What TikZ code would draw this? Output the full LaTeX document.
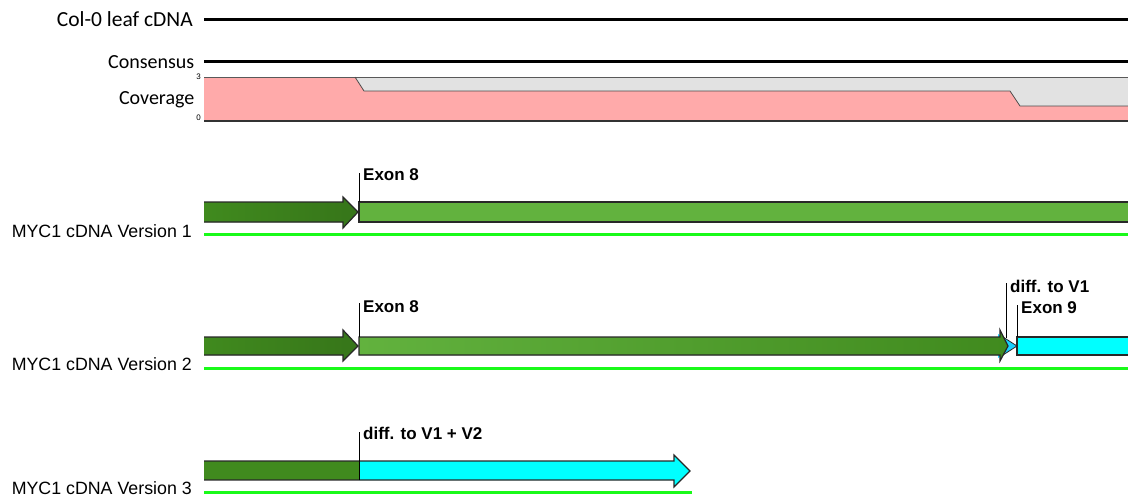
\documentclass[tikz,border=0pt]{standalone}
\usepackage{fontspec}
\setmainfont{Liberation Sans}
\newfontfamily\carl{Carlito}
\definecolor{dgreen}{RGB}{64,138,30}
\definecolor{lgreen}{RGB}{98,178,62}
\definecolor{bgreen}{RGB}{25,250,25}
\definecolor{cov}{RGB}{255,170,170}
\definecolor{covgray}{RGB}{226,226,226}
\definecolor{cyanbar}{RGB}{0,255,255}
\definecolor{edge}{RGB}{40,40,40}
\begin{document}
\begin{tikzpicture}[x=1pt,y=-1pt,
  lbl/.style={font=\carl\fontsize{20}{20}\selectfont, anchor=base east, inner sep=0pt},
  vlbl/.style={font=\fontsize{17.8}{17.8}\selectfont, anchor=base east, inner sep=0pt},
  tag/.style={font=\bfseries\fontsize{17}{17}\selectfont, anchor=base west, inner sep=0pt},
  tiny/.style={font=\fontsize{8}{8}\selectfont, anchor=east, inner sep=0pt},
  track/.style={line width=3pt, black},
  gline/.style={draw=bgreen, line width=3pt},
  pin/.style={line width=0.9pt, black},
  bar/.style={draw=edge, line width=1.2pt, line join=miter}]
\useasboundingbox (0,0) rectangle (1128,498);

% top tracks
\node[lbl, font=\carl\fontsize{21.5}{21.5}\selectfont] (col) at (193,26.5) {Col-0 leaf cDNA};
\draw[track] (204,19) -- (1128,19);
\node[lbl] (cons) at (194.5,68) {Consensus};
\draw[track] (204,61) -- (1128,61);

% coverage
\node[lbl] (covl) at (194.5,104.5) {Coverage};
\node[tiny] (c3) at (201,77) {3};
\node[tiny] (c0) at (201,118) {0};
\fill[covgray] (204,77) rectangle (1128,121);
\fill[cov] (204,77) -- (355,77) -- (364,91) -- (1010,91) -- (1020,106) -- (1128,106) -- (1128,121) -- (204,121) -- cycle;
\draw[gray!70!black, line width=0.8pt] (204,77) -- (1128,77);
\draw[gray!60!black, line width=0.8pt] (355,77) -- (364,91) -- (1010,91) -- (1020,106) -- (1128,106);
\draw[black!80, line width=1.6pt] (204,121) -- (1128,121);

% Version 1
\node[vlbl] (v1) at (192,237.5) {MYC1 cDNA Version 1};
\fill[left color=dgreen, right color=dgreen!85!black] (204,202) -- (343,202) -- (343,197) -- (358,212) -- (343,228) -- (343,222) -- (204,222) -- cycle;
\draw[bar] (204,202) -- (343,202) -- (343,197) -- (358,212) -- (343,228) -- (343,222) -- (204,222);
\fill[lgreen] (359,202) rectangle (1128,222);
\draw[bar] (1128,202) -- (359,202) -- (359,222) -- (1128,222);
\coordinate (p1) at (359,173);
\coordinate (q1) at (359,202);
\draw[pin] (p1) -- (q1);
\node[tag] (e81) at (363,180) {Exon 8};
\draw[gline] (204,234.5) -- (1128,234.5);

% Version 2
\node[vlbl] (v2) at (192,370) {MYC1 cDNA Version 2};
\fill[left color=dgreen, right color=dgreen!85!black] (204,337) -- (343,337) -- (343,330) -- (358,346) -- (343,361) -- (343,355) -- (204,355) -- cycle;
\draw[bar] (204,337) -- (343,337) -- (343,330) -- (358,346) -- (343,361) -- (343,355) -- (204,355);
\fill[cyanbar!80!blue!90!white] (998,334) -- (1017,346) -- (998,358) -- cycle;
\draw[bar, line width=0.8pt] (1003,337) -- (1017,346) -- (1003,355);
\fill[left color=lgreen, right color=dgreen] (359,337) -- (1000,337) -- (1000,330) -- (1008,346) -- (1000,361) -- (1000,355) -- (359,355) -- cycle;
\draw[bar] (359,355) -- (359,337) -- (1000,337) -- (1000,330) -- (1008,346) -- (1000,361) -- (1000,355) -- cycle;
\fill[cyanbar] (1017,337) rectangle (1128,355);
\draw[bar] (1128,337) -- (1017,337) -- (1017,355) -- (1128,355);
\coordinate (p2) at (359,303);
\coordinate (q2) at (359,337);
\draw[pin] (p2) -- (q2);
\node[tag] (e82) at (363,312) {Exon 8};
\coordinate (p3) at (1006,283);
\coordinate (q3) at (1006,338);
\draw[pin] (p3) -- (q3);
\node[tag] (d1) at (1010,292) {diff. to V1};
\coordinate (p4) at (1017,305);
\coordinate (q4) at (1017,337);
\draw[pin] (p4) -- (q4);
\node[tag] (e9) at (1021,313) {Exon 9};
\draw[gline] (204,368.5) -- (1128,368.5);

% Version 3
\node[vlbl] (v3) at (192,494) {MYC1 cDNA Version 3};
\fill[dgreen] (204,461) rectangle (359,480);
\fill[cyanbar] (359,461) -- (674,461) -- (674,455) -- (690,471) -- (674,487) -- (674,480) -- (359,480) -- cycle;
\draw[bar] (204,461) -- (674,461) -- (674,455) -- (690,471) -- (674,487) -- (674,480) -- (204,480);
\coordinate (p5) at (359,432);
\coordinate (q5) at (359,480);
\draw[pin] (p5) -- (q5);
\node[tag] (d2) at (363,439) {diff. to V1 + V2};
\draw[gline] (204,492.5) -- (692,492.5);
\end{tikzpicture}
\end{document}
